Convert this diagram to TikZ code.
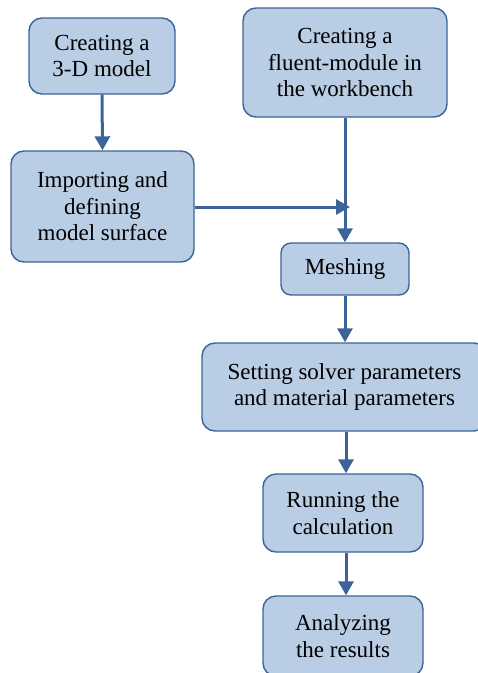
\documentclass[tikz,border=0pt]{standalone}
\usepackage{fontspec}
\setmainfont{Liberation Serif}
\usetikzlibrary{arrows.meta}
\definecolor{boxfill}{HTML}{B9CDE5}
\definecolor{boxline}{HTML}{3C6499}
\begin{document}
\begin{tikzpicture}[x=1pt,y=-1pt,
  box/.style={draw=boxline, line width=1.4pt, fill=boxfill, rounded corners=13pt,
    align=center, inner sep=0pt, font=\fontsize{23}{26.5}\selectfont},
  conn/.style={draw=boxline, line width=3pt, -{Triangle[length=14pt,width=15pt]}}]
\useasboundingbox (0,0) rectangle (478,673);
\node[box, minimum width=146pt, minimum height=76pt] (m3d) at (102,56) {Creating a\\3-D model};
\node[box, minimum width=183pt, minimum height=111pt] (imp) at (102.5,206.5) {Importing and\\defining\\model surface};
\node[box, minimum width=204pt, minimum height=109pt] (flu) at (345,62.5) {Creating a\\fluent-module in\\the workbench};
\node[box, minimum width=128pt, minimum height=52pt, rounded corners=10pt] (mesh) at (345,269) {Meshing};
\node[box, minimum width=285pt, minimum height=88pt] (set) at (344.5,387) {Setting solver parameters\\and material parameters};
\node[box, minimum width=160pt, minimum height=78pt] (run) at (343,513) {Running the\\calculation};
\node[box, minimum width=160pt, minimum height=80pt] (ana) at (343,636) {Analyzing\\the results};
\coordinate (join) at (350,207);
\draw[conn] (m3d.south) -- (imp.north);
\draw[conn] (flu.south) -- (mesh.north);
\draw[conn] (imp.east |- join) -- (join);
\draw[conn] (mesh.south) -- (mesh.south |- set.north);
\draw[conn] (set.south -| run.north) ++(3,0) coordinate (s1) -- (s1 |- run.north);
\draw[conn] (run.south) ++(3,0) coordinate (s2) -- (s2 |- ana.north);
\end{tikzpicture}
\end{document}
